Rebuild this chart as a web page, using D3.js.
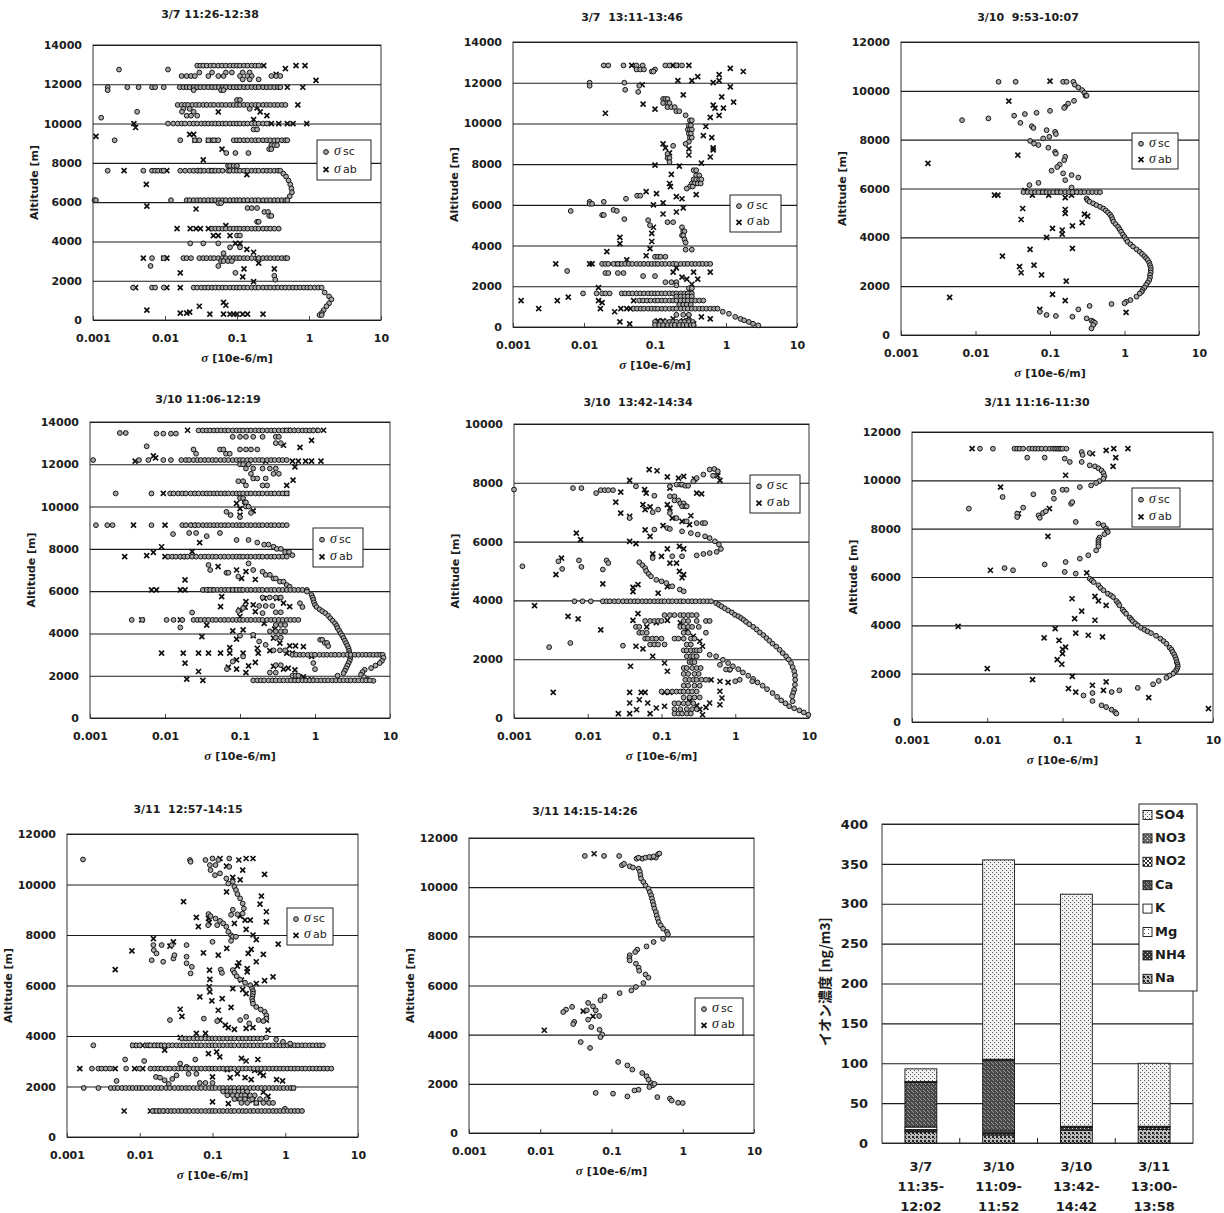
<!DOCTYPE html>
<html>
<head>
<meta charset="utf-8">
<script src="https://cdn.jsdelivr.net/npm/d3@7"></script>
<style>
body { margin: 0; background: #fff; }
svg { display: block; font-family: "DejaVu Sans", "Liberation Sans", sans-serif; }
</style>
</head>
<body>
<svg id="chart" width="1224" height="1213"></svg>
<script>
//
// Aircraft extinction profiles (sigma sc / sigma ab vs altitude) and ion concentration bars.
// Each profile series is a list of [altitude, [sigma values read at that altitude]].
//

// ---------- 3/7 11:26-12:38 ----------
var p1Sc = [
  [12750, [0.0023, 0.011]],
  [12950, [0.028, 0.031, 0.034, 0.038, 0.043, 0.048, 0.055, 0.062, 0.07, 0.08, 0.09, 0.1, 0.11, 0.125, 0.14, 0.16, 0.18, 0.2]],
  [12600, [0.03, 0.045, 0.07, 0.085, 0.12, 0.15]],
  [12420, [0.017, 0.02, 0.023, 0.026, 0.04, 0.055, 0.065, 0.11, 0.14, 0.16, 0.3, 0.35, 0.4]],
  [12250, [0.12, 0.15, 0.2]],
  [11850, [0.0016, 0.003, 0.0043, 0.0066, 0.0073, 0.0096, 0.016, 0.018, 0.02, 0.022, 0.025, 0.028, 0.031, 0.035, 0.04, 0.045, 0.05, 0.056, 0.063, 0.07, 0.08, 0.09, 0.1, 0.11, 0.125, 0.14, 0.16, 0.18, 0.2, 0.23, 0.26, 0.29, 0.33, 0.37, 0.4]],
  [11700, [0.0016, 0.025, 0.06, 0.065]],
  [11200, [0.1, 0.11]],
  [10950, [0.015, 0.017, 0.019, 0.021, 0.024, 0.027, 0.03, 0.034, 0.038, 0.043, 0.048, 0.055, 0.062, 0.07, 0.08, 0.09, 0.1, 0.11, 0.125, 0.14, 0.16, 0.18, 0.2, 0.23, 0.26, 0.29, 0.33, 0.37, 0.42, 0.47]],
  [10750, [0.018, 0.022, 0.15]],
  [10600, [0.0041, 0.0172, 0.025]],
  [10400, [0.02, 0.023, 0.028]],
  [10300, [0.0013]],
  [10000, [0.011, 0.013, 0.015, 0.017, 0.019, 0.022, 0.025, 0.028, 0.032, 0.036, 0.04, 0.045, 0.05, 0.056, 0.063, 0.07, 0.08, 0.09, 0.1, 0.11, 0.125, 0.14, 0.16, 0.18, 0.2, 0.23, 0.26]],
  [9700, [0.17, 0.19]],
  [9150, [0.002, 0.0163, 0.026, 0.03, 0.04, 0.048, 0.055, 0.09, 0.1, 0.11, 0.125, 0.14, 0.16, 0.18, 0.2, 0.23, 0.26, 0.29, 0.33, 0.37, 0.42, 0.47, 0.5]],
  [8900, [0.3, 0.33, 0.36]],
  [8700, [0.28, 0.3]],
  [8500, [0.071, 0.095, 0.144]],
  [7850, [0.075, 0.08, 0.09, 0.1]],
  [7600, [0.0016, 0.005, 0.0066, 0.0073, 0.008, 0.009, 0.0096, 0.0163, 0.019, 0.022, 0.025, 0.028, 0.031, 0.035, 0.04, 0.045, 0.05, 0.056, 0.063, 0.075, 0.08, 0.09, 0.1, 0.11, 0.125, 0.14, 0.16, 0.18, 0.2, 0.23, 0.26, 0.29, 0.33, 0.37, 0.4]],
  [7450, [0.44]], [7300, [0.48]], [7100, [0.52]], [6900, [0.55]], [6700, [0.57]], [6500, [0.58]], [6300, [0.54]],
  [6100, [0.00105, 0.0011, 0.0121, 0.02, 0.022, 0.025, 0.028, 0.031, 0.035, 0.04, 0.045, 0.05, 0.056, 0.063, 0.07, 0.08, 0.09, 0.1, 0.11, 0.125, 0.14, 0.16, 0.18, 0.2, 0.23, 0.26, 0.29, 0.33, 0.37, 0.42, 0.47, 0.5]],
  [5950, [0.055, 0.06]],
  [5700, [0.14, 0.16, 0.19]],
  [5500, [0.24, 0.27]],
  [5300, [0.28, 0.3]],
  [5000, [0.19, 0.2]],
  [4650, [0.045, 0.05, 0.056, 0.063, 0.07, 0.08, 0.09, 0.1, 0.11, 0.125, 0.14, 0.16, 0.18, 0.2, 0.23, 0.26, 0.29, 0.33, 0.38]],
  [4300, [0.1, 0.11]],
  [3900, [0.0224, 0.034, 0.055]],
  [3700, [0.08, 0.11]],
  [3400, [0.065]],
  [3150, [0.0066, 0.0096, 0.018, 0.02, 0.023, 0.03, 0.034, 0.038, 0.043, 0.048, 0.055, 0.062, 0.07, 0.08, 0.09, 0.1, 0.11, 0.125, 0.14, 0.16, 0.2, 0.23, 0.26, 0.29, 0.33, 0.37, 0.42, 0.47, 0.5]],
  [3000, [0.06, 0.065, 0.075, 0.085]],
  [2750, [0.0063, 0.055]],
  [2400, [0.095]],
  [2250, [0.33]], [2050, [0.34]],
  [1650, [0.0036, 0.0066, 0.0073, 0.0096, 0.025, 0.028, 0.032, 0.036, 0.04, 0.045, 0.05, 0.056, 0.063, 0.07, 0.08, 0.09, 0.1, 0.11, 0.125, 0.14, 0.16, 0.18, 0.2, 0.23, 0.26, 0.29, 0.33, 0.37, 0.42, 0.47, 0.53, 0.6, 0.67, 0.75, 0.85, 0.95, 1.05, 1.2, 1.35, 1.5]],
  [1400, [1.65]], [1200, [1.9]], [1050, [2.05]], [850, [1.9]], [700, [1.75]], [500, [1.6]], [350, [1.5]], [250, [1.4, 1.5]]
];
var p1Ab = [
  [12950, [0.235, 0.66, 0.88]], [12800, [0.47]], [12200, [1.25]], [12500, [0.35]], [11850, [0.5, 0.82]],
  [10950, [0.7]], [10600, [0.055, 0.21]], [10800, [0.19]], [10400, [0.26]],
  [10000, [0.0037, 0.3, 0.38, 0.5, 0.6, 0.93]], [10200, [0.17]], [9800, [0.0039]], [9450, [0.022, 0.025]],
  [9350, [0.0011]], [9150, [0.026, 0.04, 0.048]], [8700, [0.062]], [8150, [0.034]],
  [7600, [0.0027, 0.0106, 0.03, 0.045]], [7400, [0.137]], [6900, [0.0055]], [5800, [0.0056]], [5650, [0.027]],
  [4650, [0.0147, 0.0224, 0.027, 0.031, 0.04]], [4800, [0.07]], [4300, [0.047, 0.055, 0.08]],
  [3900, [0.095, 0.11]], [3600, [0.137]], [3450, [0.17]], [3150, [0.005, 0.0096, 0.0106, 0.19]],
  [2900, [0.2]], [2600, [0.33, 0.125]], [2400, [0.0163]], [2200, [0.12]], [1950, [0.17]],
  [1650, [0.0039, 0.0106, 0.0163]], [900, [0.065]], [750, [0.07]], [700, [0.03]], [500, [0.0056]],
  [350, [0.0163, 0.02]], [400, [0.022]], [300, [0.042, 0.065, 0.08, 0.09, 0.1, 0.12, 0.14, 0.23]]
];

// ---------- 3/7 13:11-13:46 ----------
var p2Sc = [
  [12850, [0.019, 0.022, 0.036, 0.055, 0.067, 0.14, 0.16, 0.2, 0.24]],
  [12650, [0.055, 0.062, 0.07, 0.1]], [12550, [0.09, 0.095]],
  [12000, [0.012, 0.037]], [11850, [0.012, 0.06]], [11650, [0.038]], [11550, [0.058]],
  [11200, [0.13, 0.14, 0.15]], [11000, [0.13, 0.15, 0.16]], [10800, [0.15, 0.17, 0.19]], [10600, [0.2, 0.22]],
  [10400, [0.27]], [10150, [0.31, 0.33]], [9900, [0.3, 0.32]], [9700, [0.29, 0.31, 0.33]], [9500, [0.3, 0.32]],
  [9300, [0.31, 0.33]], [9100, [0.3]], [9000, [0.27]], [8900, [0.18]],
  [8500, [0.15]], [8300, [0.15, 0.16]], [8100, [0.16]],
  [7700, [0.35, 0.38]], [7450, [0.38, 0.42]], [7250, [0.35, 0.38, 0.42, 0.45]], [7050, [0.33, 0.36, 0.4, 0.44]], [6900, [0.31, 0.34]],
  [6800, [0.28]], [6450, [0.056, 0.062]], [6300, [0.039]], [6150, [0.012, 0.019]], [6050, [0.012, 0.013]],
  [5750, [0.026]], [5700, [0.0065, 0.029]], [5500, [0.018, 0.019]], [5300, [0.037]],
  [5250, [0.08]], [5000, [0.085]], [5150, [0.15, 0.18]],
  [4900, [0.24]], [4700, [0.25, 0.26]], [4500, [0.24, 0.25]], [4300, [0.26]], [4150, [0.27]], [3800, [0.27, 0.33]],
  [3450, [0.1, 0.11, 0.12, 0.14]],
  [3100, [0.018, 0.02, 0.022, 0.026, 0.03, 0.034, 0.038, 0.043, 0.048, 0.055, 0.062, 0.07, 0.08, 0.09, 0.1, 0.11, 0.125, 0.14, 0.16, 0.18, 0.2, 0.23, 0.26, 0.29, 0.33, 0.37, 0.42, 0.47, 0.53, 0.6]],
  [2750, [0.0058]], [2650, [0.02, 0.022, 0.03, 0.036]], [2500, [0.068, 0.1]], [2200, [0.14, 0.17, 0.2]],
  [2050, [0.2]], [1900, [0.3, 0.33]],
  [1650, [0.0097, 0.015, 0.018, 0.02, 0.023, 0.034, 0.038, 0.043, 0.048, 0.055, 0.062, 0.07, 0.08, 0.09, 0.1, 0.11, 0.125, 0.14, 0.16, 0.18, 0.2, 0.23, 0.26, 0.29, 0.33]],
  [1500, [0.2, 0.23, 0.26, 0.29, 0.33]],
  [1300, [0.06, 0.068, 0.077, 0.087, 0.1, 0.11, 0.125, 0.14, 0.16, 0.18, 0.2, 0.23, 0.26, 0.29, 0.33, 0.37, 0.42, 0.48]],
  [1100, [0.22, 0.25, 0.28, 0.32]],
  [900, [0.05, 0.056, 0.063, 0.07, 0.08, 0.09, 0.1, 0.11, 0.125, 0.14, 0.16, 0.18, 0.2, 0.23, 0.26, 0.29, 0.33, 0.37, 0.42, 0.47, 0.53, 0.6, 0.68, 0.76]],
  [750, [0.9]], [650, [1.1]], [500, [1.35]], [400, [1.6]], [330, [1.8]], [250, [2.1]], [160, [2.4]], [80, [2.85]],
  [600, [0.2, 0.25, 0.3]],
  [250, [0.1, 0.12, 0.14, 0.16, 0.18, 0.2, 0.23, 0.26, 0.3, 0.34]],
  [100, [0.1, 0.115, 0.13, 0.15, 0.17, 0.19, 0.22, 0.25, 0.28, 0.32, 0.35]]
];
var p2Ab = [
  [12850, [0.047, 0.18, 0.2, 0.3]], [12700, [1.15]], [12550, [1.75]], [12400, [0.8]], [12300, [0.4]],
  [12100, [0.21, 0.33, 0.8]], [12000, [0.66]], [11900, [0.066]], [11800, [1.15]], [11400, [0.25]], [11300, [0.87]],
  [11050, [1.28]], [10950, [0.068]], [10900, [0.66]], [10750, [0.7, 0.92]], [10700, [0.1]], [10500, [0.02]],
  [10400, [0.8]], [10300, [0.6]], [9850, [0.52]], [9400, [0.48]], [9300, [0.63]], [9000, [0.13]],
  [8800, [0.14, 0.66]], [8750, [0.3]], [8700, [0.66]], [8550, [0.16]], [8450, [0.3]], [8350, [0.6]],
  [8050, [0.45]], [7950, [0.1]], [7900, [0.22]], [7500, [0.17]], [7050, [0.16]], [6900, [0.165]],
  [6650, [0.075]], [6550, [0.105]], [6500, [0.38]], [6400, [0.2]], [6300, [0.24]], [6100, [0.13]],
  [6000, [0.095]], [5850, [0.25]], [5650, [0.2]], [5550, [0.13]], [4900, [0.095]], [4600, [0.09]],
  [4400, [0.032]], [4200, [0.09]], [4100, [0.032]], [3850, [0.085]], [3700, [0.021]], [3500, [0.075]],
  [3300, [0.04]], [3100, [0.004, 0.012, 0.013, 0.03]], [2900, [0.2]], [2700, [0.18, 0.35, 0.6]],
  [2450, [0.24]], [2350, [0.28, 0.4]], [2100, [0.33]], [1930, [0.016]], [1470, [0.006]],
  [1300, [0.0013, 0.0042, 0.016, 0.05]], [1200, [0.018]], [900, [0.0023, 0.017, 0.033, 0.04, 0.045]],
  [750, [0.027]], [500, [0.3, 0.45]], [400, [0.18, 0.6]], [300, [0.11, 0.13, 0.25]], [250, [0.032]], [150, [0.044, 0.35]]
];

// ---------- 3/10 9:53-10:07 ----------
var p3Sc = [
  [10370, [0.0204, 0.0346, 0.15, 0.167, 0.206]],
  [10250, [0.215]], [10140, [0.24]], [10030, [0.27]], [9920, [0.29]], [9800, [0.3, 0.31]],
  [9590, [0.21]], [9480, [0.175]], [9350, [0.16]], [9300, [0.155]],
  [9180, [0.1]], [9100, [0.066]], [9050, [0.046]], [8980, [0.033]], [8870, [0.0149]], [8800, [0.0066]],
  [8690, [0.04]], [8550, [0.057]], [8480, [0.06]], [8390, [0.09]], [8320, [0.117]], [8230, [0.12]],
  [8120, [0.098]], [8050, [0.081]], [7950, [0.054]], [7840, [0.061]], [7780, [0.07]], [7670, [0.095]],
  [7500, [0.117]], [7430, [0.12]], [7300, [0.16]], [7160, [0.155]], [6980, [0.135]], [6880, [0.125]],
  [6730, [0.105]], [6620, [0.15]], [6550, [0.195]], [6450, [0.24]], [6340, [0.16]], [6230, [0.07]],
  [6140, [0.053]], [6040, [0.195]],
  [5850, [0.044, 0.05, 0.056, 0.063, 0.07, 0.08, 0.09, 0.1, 0.11, 0.125, 0.14, 0.16, 0.18, 0.2, 0.23, 0.26, 0.29, 0.33, 0.37, 0.42, 0.47]],
  [5590, [0.31]], [5520, [0.32]], [5460, [0.34]], [5390, [0.38]], [5320, [0.42]], [5250, [0.47]], [5180, [0.52]],
  [5100, [0.56]], [5020, [0.6]], [4930, [0.64]], [4840, [0.67]], [4740, [0.69]], [4640, [0.71]], [4540, [0.76]],
  [4430, [0.82]], [4330, [0.86]], [4230, [0.9]], [4120, [0.95]], [4020, [1.0]], [3920, [1.05]], [3820, [1.1]],
  [3720, [1.2]], [3620, [1.3]], [3510, [1.45]], [3410, [1.6]], [3320, [1.72]], [3230, [1.85]], [3150, [1.95]],
  [3070, [2.05]], [2960, [2.15]], [2860, [2.2]], [2760, [2.25]], [2660, [2.25]], [2560, [2.25]], [2460, [2.2]],
  [2350, [2.2]], [2250, [2.15]], [2150, [2.05]], [2050, [1.95]], [1940, [1.85]], [1840, [1.75]], [1770, [1.7]],
  [1700, [1.6]], [1570, [1.45]], [1430, [1.2]], [1360, [1.05]], [1300, [1.0]],
  [1270, [0.67]], [1190, [0.34]], [1050, [0.24]], [750, [0.2]], [780, [0.12]], [820, [0.09]], [950, [0.073]],
  [680, [0.31]], [590, [0.36]], [550, [0.38]], [500, [0.4]], [410, [0.38]], [270, [0.36]]
];
var p3Ab = [
  [10400, [0.1]], [9580, [0.028]], [7030, [0.0023]], [7370, [0.037]],
  [5730, [0.018, 0.02, 0.058, 0.096, 0.195]], [5910, [0.046]], [5630, [0.16]], [5850, [0.08, 0.125, 0.2, 0.25]],
  [5180, [0.043]], [4730, [0.041]], [5140, [0.16]], [4980, [0.16]], [4950, [0.29]], [4870, [0.32]], [4600, [0.27]],
  [4370, [0.108]], [4300, [0.146]], [4130, [0.146]], [4470, [0.2]], [4000, [0.09]], [3510, [0.054]],
  [3550, [0.2]], [3230, [0.023]], [2800, [0.039]], [2550, [0.041]], [2860, [0.061]], [2460, [0.077]],
  [2210, [0.165]], [1540, [0.0045]], [1660, [0.108]], [1410, [0.16]], [1050, [0.073]], [930, [1.05]]
];

// ---------- 3/10 11:06-12:19 ----------
var p4Sc = [
  [13480, [0.0025, 0.003]], [13450, [0.0077, 0.0095, 0.012, 0.014]],
  [13600, [0.028, 0.032, 0.036, 0.04, 0.045, 0.05, 0.056, 0.063, 0.07, 0.08, 0.09, 0.1, 0.11, 0.125, 0.14, 0.16, 0.18, 0.2, 0.23, 0.26, 0.29, 0.33, 0.37, 0.42, 0.47, 0.53, 0.6, 0.68, 0.76, 0.85, 0.95, 1.1]],
  [13300, [0.08, 0.1, 0.12, 0.15, 0.2, 0.3, 0.33]], [13000, [0.3, 0.35]], [12850, [0.0057]],
  [12700, [0.024, 0.054, 0.06, 0.1, 0.12, 0.14, 0.17]], [12500, [0.026, 0.065, 0.073]],
  [12200, [0.0011, 0.0045, 0.006, 0.0095, 0.012, 0.0165, 0.019, 0.021, 0.024, 0.027, 0.03, 0.034, 0.038, 0.043, 0.048, 0.055, 0.062, 0.07, 0.08, 0.09, 0.1, 0.11, 0.125, 0.14, 0.16, 0.18, 0.2, 0.23, 0.26, 0.29, 0.33, 0.37, 0.42]],
  [12000, [0.1, 0.11, 0.13]], [11800, [0.12, 0.15, 0.2, 0.25, 0.3]], [11550, [0.14, 0.28, 0.33]],
  [11330, [0.15, 0.17, 0.22]], [11200, [0.095, 0.11]], [11000, [0.12, 0.2, 0.23]],
  [10620, [0.0022, 0.0066, 0.0117, 0.013, 0.015, 0.017, 0.019, 0.022, 0.025, 0.028, 0.032, 0.036, 0.04, 0.045, 0.05, 0.056, 0.063, 0.07, 0.08, 0.09, 0.1, 0.11, 0.125, 0.14, 0.16, 0.18, 0.2, 0.23, 0.26, 0.29, 0.33, 0.37, 0.42]],
  [10400, [0.1, 0.11]], [10200, [0.115, 0.12]], [10000, [0.12, 0.13]], [9750, [0.066]], [9600, [0.075]],
  [9500, [0.1]], [9700, [0.14]],
  [9120, [0.0012, 0.0017, 0.002, 0.0066, 0.017, 0.019, 0.022, 0.025, 0.028, 0.032, 0.036, 0.04, 0.045, 0.05, 0.056, 0.063, 0.07, 0.08, 0.09, 0.1, 0.11, 0.125, 0.14, 0.16, 0.18, 0.2, 0.23, 0.26, 0.29, 0.33, 0.37, 0.42]],
  [8700, [0.0128]], [8750, [0.021, 0.026, 0.054]], [8600, [0.036]],
  [8420, [0.09, 0.13]], [8300, [0.17]], [8200, [0.21, 0.24]], [8100, [0.28]], [8000, [0.31, 0.35]], [7850, [0.4, 0.45]], [7700, [0.5]],
  [7630, [0.011, 0.0125, 0.014, 0.016, 0.018, 0.02, 0.023, 0.026, 0.03, 0.034, 0.038, 0.043, 0.048, 0.055, 0.062, 0.07, 0.08, 0.09, 0.1, 0.11, 0.125, 0.14, 0.16, 0.18, 0.2, 0.23, 0.26, 0.29, 0.33, 0.37, 0.42]],
  [7240, [0.038]], [7000, [0.04, 0.15]], [7310, [0.13]], [6870, [0.066, 0.07]], [6690, [0.095]], [6920, [0.2]],
  [6770, [0.22, 0.25]], [6600, [0.28, 0.3]], [6450, [0.34, 0.38]], [6290, [0.42]], [6210, [0.46]],
  [6060, [0.032, 0.036, 0.04, 0.045, 0.05, 0.056, 0.063, 0.07, 0.08, 0.09, 0.1, 0.11, 0.125, 0.14, 0.16, 0.18, 0.2, 0.23, 0.26, 0.29, 0.33, 0.37, 0.42, 0.47, 0.53, 0.6, 0.68, 0.78]],
  [5980, [0.78]], [5820, [0.9]], [5700, [0.93]], [5590, [0.95]], [5470, [0.97]], [5350, [1.0]], [5250, [1.05]],
  [5140, [1.15]], [5050, [1.25]], [4960, [1.37]], [4840, [1.5]], [4720, [1.6]], [4600, [1.72]], [4480, [1.85]],
  [4360, [1.95]], [4250, [2.0]], [4130, [2.1]], [4010, [2.2]], [3900, [2.3]], [3780, [2.4]], [3660, [2.5]],
  [3540, [2.6]], [3420, [2.7]], [3300, [2.8]], [3180, [2.85]], [3070, [2.9]], [2950, [2.9]], [2830, [2.95]],
  [2710, [2.9]], [2600, [2.8]], [2480, [2.7]], [2360, [2.6]], [2240, [2.5]], [2120, [2.4]], [2000, [2.0]],
  [5430, [0.63]], [5250, [0.68]],
  [2990, [0.5, 0.56, 0.63, 0.7, 0.8, 0.9, 1.0, 1.15, 1.3, 1.45, 1.65, 1.85, 2.1, 2.4, 2.7, 3.0, 3.4, 3.8, 4.3, 4.8, 5.4, 6.0, 6.7, 7.4, 8.0]],
  [2850, [8.2]], [2700, [7.8]], [2600, [7.3]], [2480, [6.4]], [2360, [5.6]], [2280, [4.6]], [2170, [4.3]],
  [2050, [4.1]], [1930, [4.5]], [1810, [5.0]], [1760, [6.0]],
  [1780, [0.15, 0.17, 0.19, 0.21, 0.24, 0.27, 0.3, 0.34, 0.38, 0.43, 0.48, 0.54, 0.6, 0.68, 0.76, 0.85, 0.95, 1.07, 1.2, 1.35, 1.5, 1.7, 1.9, 2.15, 2.4, 2.7, 3.0, 3.4, 3.8, 4.3, 4.8, 5.4]],
  [3700, [1.17, 1.25]], [3550, [1.35, 1.45]], [3400, [1.5]],
  [4640, [0.0036, 0.005, 0.0105, 0.013, 0.017, 0.024, 0.027, 0.03, 0.034, 0.038, 0.043, 0.048, 0.055, 0.062, 0.07, 0.08, 0.09, 0.1, 0.11, 0.125, 0.14, 0.16, 0.18, 0.2, 0.23, 0.26, 0.29, 0.33, 0.37, 0.42, 0.47, 0.53, 0.6]],
  [4990, [0.023]], [4280, [0.016]], [5060, [0.095]], [5200, [0.11]], [4960, [0.2]], [3930, [0.15]],
  [3620, [0.18]], [3460, [0.22]], [3890, [0.1]], [2670, [0.08]], [2310, [0.067, 1.0]], [2910, [0.11]], [2600, [0.95]],
  [5700, [0.2, 0.25, 0.3, 0.35]], [5300, [0.18, 0.22, 0.27]], [5000, [0.3, 0.35]], [4400, [0.3, 0.35, 0.4]],
  [4100, [0.25, 0.3, 0.35, 0.4]], [3800, [0.3, 0.35]], [3200, [0.28, 0.34, 0.4]], [2500, [0.3, 0.35]],
  [2150, [0.25, 0.3]], [2000, [0.5, 0.55, 0.6]]
];
var p4Ab = [
  [13610, [0.02, 0.42, 0.5, 1.0, 1.3]], [13130, [0.9]], [12900, [0.38]], [12800, [0.63]], [12400, [0.007]],
  [12300, [0.0075]], [12150, [0.004, 0.22, 0.5, 0.6, 0.75, 0.9, 1.2]], [11250, [0.51]], [11000, [0.42]],
  [11880, [0.54]], [10620, [0.0095, 0.42]], [10150, [0.09]], [9900, [0.1]], [9800, [0.15]], [9600, [0.1]],
  [9120, [0.0038, 0.01, 0.024]], [8290, [0.029]], [8100, [0.009]], [7830, [0.007]], [7680, [0.0057]],
  [7630, [0.0029, 0.01, 0.017]], [7870, [0.023]], [7160, [0.051]], [7000, [0.09]], [6920, [0.12]],
  [6600, [0.105]], [6530, [0.0185]], [6550, [0.16]],
  [6060, [0.0066, 0.0077, 0.016, 0.0185, 0.035, 0.04, 0.06, 0.08, 0.1]],
  [5740, [0.057]], [5500, [0.12]], [5350, [0.15]], [5660, [0.21, 0.31]], [5430, [0.38]], [5270, [0.055, 0.46]],
  [5240, [0.117]], [5110, [0.1]], [5030, [0.16]], [4800, [0.1]], [4480, [0.21]], [4200, [0.29]], [4390, [0.036]],
  [4170, [0.11]], [4120, [0.08]], [3890, [0.15]], [3730, [0.09]], [3850, [0.031]], [3780, [0.28]], [3540, [0.34]],
  [3410, [0.46, 0.55]], [3380, [0.7]], [3330, [0.073]], [3300, [0.17]], [3190, [0.25]],
  [3070, [0.009, 0.0175, 0.028, 0.038, 0.055, 0.073, 0.11, 0.175, 0.42, 0.5]], [2910, [0.9]], [4640, [0.0049, 0.016]],
  [2600, [0.0185]], [2200, [0.028]], [2410, [0.07]], [2310, [0.09, 0.38]], [2470, [0.13]], [2630, [0.16]],
  [2750, [0.09]], [2440, [0.28]], [2360, [0.44]], [2280, [0.54]], [1840, [0.0195]], [1780, [0.032]],
  [2150, [0.12]], [1800, [0.55, 0.65, 0.8, 0.9]], [1950, [0.6, 0.7]]
];

// ---------- 3/10 13:42-14:34 ----------
var p5Sc = [
  [7770, [0.001]], [7820, [0.0063, 0.0082]], [7650, [0.013]], [7750, [0.015, 0.017, 0.019, 0.022]],
  [7880, [0.045, 0.13]], [7560, [0.08]], [7000, [0.076]], [6800, [0.037]],
  [7940, [0.16, 0.18, 0.19]], [7900, [0.21, 0.23]], [8050, [0.27]], [8160, [0.3]], [8280, [0.37]], [8450, [0.45]],
  [8470, [0.52]], [8390, [0.58]], [8240, [0.5]],
  [7540, [0.13, 0.15]], [7400, [0.15, 0.17]], [7300, [0.18, 0.2]], [7200, [0.19, 0.21, 0.22]],
  [7090, [0.09]], [6970, [0.13]], [6800, [0.16]], [6690, [0.22]], [6630, [0.3, 0.36, 0.39]],
  [6410, [0.08]], [6460, [0.12]], [6430, [0.13]], [6350, [0.19]],
  [6290, [0.25]], [6240, [0.31]], [6180, [0.39]], [6120, [0.45]], [6010, [0.53]], [5900, [0.6]], [5750, [0.64]],
  [5650, [0.56]], [5610, [0.45]], [5580, [0.37]], [5530, [0.3]], [5500, [0.14, 0.19]], [5440, [0.076]],
  [5160, [0.0013]], [5330, [0.004]], [5070, [0.0045]], [5360, [0.0076, 0.018]], [5140, [0.0082]], [5050, [0.016]], [5270, [0.019]],
  [2410, [0.003]], [2550, [0.0058]], [2460, [0.03]],
  [5300, [0.05]], [5200, [0.055]], [5100, [0.06]], [5000, [0.062]], [4900, [0.067]], [4820, [0.072]], [4700, [0.085]],
  [4650, [0.1]], [4590, [0.116]], [4480, [0.14]], [4370, [0.177]], [4310, [0.2]],
  [3970, [0.0066, 0.0085, 0.011, 0.016, 0.018, 0.02, 0.023, 0.026, 0.03, 0.034, 0.038, 0.043, 0.048, 0.055, 0.062, 0.07, 0.08, 0.09, 0.1, 0.11, 0.125, 0.14, 0.16, 0.18, 0.2, 0.23, 0.26, 0.29, 0.33, 0.37, 0.42, 0.47]],
  [3910, [0.55]], [3850, [0.6]], [3800, [0.65]], [3730, [0.72]], [3660, [0.8]], [3590, [0.9]], [3510, [0.99]],
  [3460, [1.1]], [3400, [1.2]], [3340, [1.3]], [3270, [1.4]], [3190, [1.55]], [3100, [1.75]], [3010, [1.95]],
  [2910, [2.15]], [2820, [2.4]], [2720, [2.65]], [2630, [2.9]], [2530, [3.2]], [2430, [3.6]], [2320, [4.0]],
  [2210, [4.4]], [2100, [4.9]], [1990, [5.3]], [1870, [5.7]], [1730, [6.0]], [1590, [6.3]], [1450, [6.45]],
  [1300, [6.5]], [1130, [6.45]], [960, [6.3]], [850, [6.1]], [740, [5.9]], [570, [6.0]],
  [2150, [0.45]], [2100, [0.55]], [1980, [0.68]], [1870, [0.8]], [1760, [0.93]], [1660, [1.1]], [1550, [1.27]],
  [1440, [1.5]], [1330, [1.75]], [1210, [2.0]], [1100, [2.35]], [980, [2.7]], [850, [3.2]], [720, [3.7]],
  [600, [4.2]], [500, [4.8]], [400, [5.4]], [330, [6.3]], [260, [7.4]], [190, [8.5]], [110, [9.8]],
  [1810, [0.62]], [1640, [0.84]], [1300, [1.15]], [1250, [1.0, 1.7]], [1650, [0.75, 0.85]],
  [3500, [0.11, 0.13, 0.15, 0.18, 0.2, 0.23, 0.26, 0.3]],
  [3300, [0.06, 0.07, 0.08, 0.09, 0.1, 0.2, 0.23, 0.3, 0.4, 0.45]],
  [3100, [0.045, 0.05, 0.18, 0.2, 0.23, 0.26, 0.32]],
  [2900, [0.05, 0.055, 0.063, 0.2, 0.23, 0.4]],
  [2700, [0.06, 0.065, 0.075, 0.085, 0.1, 0.15, 0.17, 0.2, 0.25, 0.28]],
  [2500, [0.07, 0.08, 0.09, 0.11, 0.22, 0.25]],
  [2300, [0.2, 0.22, 0.25, 0.28, 0.3, 0.33]],
  [2100, [0.22, 0.25, 0.27, 0.3]], [1900, [0.24, 0.26, 0.28]],
  [1700, [0.2, 0.22, 0.26, 0.3, 0.34]], [1500, [0.2, 0.23, 0.28, 0.32]],
  [1300, [0.21, 0.24, 0.27, 0.3, 0.35, 0.4]], [1100, [0.2, 0.23, 0.28, 0.33]],
  [900, [0.1, 0.12, 0.14, 0.16, 0.18, 0.2, 0.23, 0.26, 0.3]], [700, [0.2, 0.24, 0.28, 0.33]],
  [500, [0.15, 0.17, 0.2, 0.23, 0.27]], [300, [0.15, 0.18, 0.22, 0.26, 0.3]], [150, [0.15, 0.17, 0.19, 0.22, 0.25]]
];
var p5Ab = [
  [8450, [0.068]], [8410, [0.087]], [8080, [0.037, 0.62]], [8200, [0.12]], [8160, [0.17]], [8220, [0.2]],
  [8130, [0.28]], [8240, [0.58]], [7680, [0.028]], [7770, [0.059]], [7650, [0.062, 0.3]], [7820, [0.13]],
  [7620, [0.35]], [7340, [0.024]], [6970, [0.028]], [6860, [0.037]], [7260, [0.056, 0.12]], [7090, [0.06]],
  [7180, [0.07]], [7140, [0.13]], [6800, [0.14]], [6690, [0.19]], [6880, [0.25]], [6580, [0.24]], [6540, [0.105]],
  [6180, [0.07]], [6400, [0.06]], [6290, [0.007]], [6070, [0.008]], [6010, [0.037]], [5930, [0.045]],
  [5750, [0.12, 0.2]], [5840, [0.175]], [5580, [0.076]], [5500, [0.1]], [5270, [0.13, 0.16]], [4990, [0.175]],
  [4880, [0.2, 0.0037]], [4770, [0.19]], [5440, [0.0044]], [4560, [0.016]], [4440, [0.041]], [4300, [0.041]],
  [4540, [0.048]], [4250, [0.09]], [4470, [0.12]], [3820, [0.0019]], [3460, [0.0054]], [3370, [0.0074]],
  [3000, [0.015, 0.22]], [3320, [0.041, 0.12]], [3550, [0.048]], [3100, [0.063]], [3240, [0.085, 0.18]],
  [2780, [0.27]], [2610, [0.33]], [2440, [0.36, 0.045]], [2350, [0.056]], [2100, [0.076]], [1870, [0.11]],
  [1590, [0.12]], [1760, [0.038]], [870, [0.0034, 0.037, 0.053, 0.06, 0.11, 0.13]], [510, [0.037, 0.065, 0.45]],
  [620, [0.05]], [280, [0.046]], [150, [0.026, 0.037, 0.07]], [340, [0.085]], [400, [0.11]], [560, [0.24]],
  [420, [0.3]], [290, [0.33]], [110, [0.36]], [360, [0.4]], [450, [0.62]], [1250, [0.62]], [910, [0.62]],
  [680, [0.66]], [1210, [0.8]], [1300, [0.47]]
];

// ---------- 3/11 11:16-11:30 ----------
var p6Sc = [
  [11310, [0.008, 0.0119, 0.023, 0.025, 0.027, 0.03, 0.036, 0.04, 0.044, 0.048, 0.053, 0.06, 0.068, 0.075, 0.08, 0.085, 0.09, 0.095, 0.1, 0.113]],
  [10940, [0.034, 0.058]], [10900, [0.107]], [10760, [0.125, 0.18]], [11170, [0.18]], [11050, [0.185]], [11130, [0.23]],
  [10620, [0.23]], [10580, [0.27]], [10500, [0.3]], [10410, [0.33]], [10300, [0.35]], [10170, [0.36]],
  [10070, [0.35]], [9970, [0.31]], [9890, [0.28]], [9790, [0.24]], [9720, [0.17]], [9610, [0.1, 0.113]],
  [9520, [0.076]], [9420, [0.041]], [9240, [0.077]], [9310, [0.016]], [8830, [0.0057]], [8870, [0.03]],
  [9030, [0.13]], [9100, [0.135]], [8620, [0.025]], [8480, [0.025]], [8550, [0.048]], [8650, [0.055]],
  [8450, [0.05]], [8720, [0.06]], [8280, [0.15]], [8210, [0.3]], [8140, [0.35]],
  [8000, [0.38]], [7920, [0.39]], [7860, [0.4]], [7770, [0.36]], [7630, [0.31]], [7540, [0.3]], [7450, [0.3]],
  [7360, [0.3]], [7270, [0.3]], [7100, [0.28]], [6900, [0.22]], [6760, [0.17]], [6620, [0.11]], [6520, [0.058]],
  [6280, [0.022]], [6370, [0.017]], [6210, [0.107]], [6140, [0.15]],
  [5930, [0.23]], [5860, [0.245]], [5790, [0.26]], [5660, [0.3]], [5550, [0.32]], [5450, [0.35]], [5310, [0.4]],
  [5240, [0.44]], [5170, [0.47]], [5010, [0.52]], [4920, [0.55]], [4830, [0.57]], [4650, [0.63]], [4570, [0.66]],
  [4480, [0.7]], [4320, [0.78]], [4250, [0.82]], [4170, [0.86]], [4080, [0.93]], [4000, [1.0]], [3900, [1.1]],
  [3820, [1.23]], [3750, [1.35]], [3680, [1.5]], [3570, [1.75]], [3450, [2.0]], [3350, [2.2]], [3240, [2.4]],
  [3080, [2.65]], [3000, [2.8]], [2900, [2.9]], [2800, [3.05]], [2690, [3.15]], [2590, [3.25]], [2480, [3.3]],
  [2390, [3.38]], [2300, [3.4]], [2220, [3.35]], [2140, [3.25]], [2070, [3.1]], [2000, [2.95]], [1920, [2.65]],
  [1830, [2.4]], [1700, [1.9]], [1560, [1.6]], [1410, [1.0]], [1310, [0.57]], [1240, [0.45]],
  [1200, [0.25]], [870, [0.25]], [1100, [0.19]], [690, [0.33]], [620, [0.38]], [510, [0.45]], [410, [0.5]], [350, [0.52]]
];
var p6Ab = [
  [11310, [0.0063, 0.48, 0.74]], [11240, [0.38]], [11100, [0.25]], [10940, [0.51]], [10580, [0.47]],
  [10210, [0.11]], [9720, [0.015]], [8620, [0.026]], [8830, [0.067]], [7680, [0.064]], [6280, [0.011]],
  [6170, [0.21]], [5100, [0.134]], [5200, [0.27]], [5010, [0.3]], [4830, [0.38]], [4590, [0.18]],
  [4280, [0.145]], [4210, [0.27]], [3960, [0.0041]], [3860, [0.08]], [3480, [0.057]], [3380, [0.09]],
  [3100, [0.11]], [3010, [0.1]], [2830, [0.1]], [2580, [0.085]], [2390, [0.098]], [3680, [0.15]],
  [3590, [0.22]], [3520, [0.34]], [2210, [0.01]], [1750, [0.04]], [1890, [0.135]], [1520, [0.25]],
  [1660, [0.38]], [1380, [0.12]], [1240, [0.15]], [1310, [0.35]], [1010, [1.4]], [550, [8.7]]
];

// ---------- 3/11 12:57-14:15 ----------
var p7Sc = [
  [10990, [0.00166]], [10970, [0.049, 0.08, 0.12]], [10900, [0.05]], [11030, [0.1, 0.17]],
  [10770, [0.092, 0.11]], [10570, [0.094]], [10370, [0.108]], [10440, [0.127]], [10240, [0.155]], [10700, [0.17]],
  [10110, [0.19]], [10040, [0.165]], [9910, [0.2]], [9780, [0.21]], [9620, [0.22]], [9450, [0.24]],
  [9250, [0.26]], [9050, [0.27]], [8850, [0.26]], [8820, [0.22]], [9000, [0.19]], [8800, [0.18]],
  [8830, [0.088]], [8750, [0.094]], [8650, [0.11]], [8560, [0.127]], [8460, [0.14]], [8330, [0.155]],
  [8130, [0.165]], [7990, [0.18]], [7930, [0.19, 0.21]], [8390, [0.087, 0.116]], [7770, [0.18]],
  [7600, [0.0154, 0.02, 0.0275, 0.044]], [7400, [0.0156]], [7270, [0.017]], [6940, [0.021]], [7070, [0.029]],
  [7200, [0.03]], [7140, [0.044]], [6880, [0.044]], [6740, [0.052]], [6480, [0.05]], [7000, [0.0146]], [7730, [0.1]],
  [6630, [0.13]], [6500, [0.135]],
  [6610, [0.19]], [6500, [0.2]], [6370, [0.215]], [6240, [0.24]], [6110, [0.28]], [6010, [0.33]], [5880, [0.35]],
  [5780, [0.36]], [5680, [0.36]], [5580, [0.355]], [5480, [0.35]], [5380, [0.355]], [5280, [0.36]], [5150, [0.4]],
  [5050, [0.46]], [4960, [0.52]], [4820, [0.55]], [4690, [0.55]], [4590, [0.5]], [4630, [0.43]],
  [4630, [0.026, 0.24]], [4690, [0.076]], [4590, [0.116]], [4760, [0.29]], [4500, [0.32]],
  [3630, [0.0023, 0.008, 0.009, 0.01, 0.012, 0.013, 0.014, 0.016, 0.018, 0.02, 0.022, 0.025, 0.028, 0.032, 0.036, 0.04, 0.045, 0.05, 0.056, 0.063, 0.07, 0.08, 0.09, 0.1, 0.11, 0.125, 0.14, 0.16, 0.18, 0.2, 0.23, 0.26, 0.29, 0.33, 0.37, 0.42, 0.47, 0.53, 0.6, 0.68, 0.76, 0.85, 0.95, 1.07, 1.2, 1.35, 1.5, 1.7, 1.9, 2.15, 2.4, 2.7, 3.0, 3.3]],
  [3940, [0.55]], [3860, [0.75]], [3770, [0.93]], [3700, [1.17]],
  [3900, [0.038, 0.043, 0.048, 0.055, 0.062, 0.07, 0.08, 0.09, 0.1, 0.11, 0.125, 0.14, 0.16, 0.18, 0.2, 0.23, 0.26, 0.29, 0.33, 0.37, 0.42, 0.47]],
  [3070, [0.0063, 0.058]], [3010, [0.0115]], [2910, [0.036]], [2780, [0.044]], [2440, [0.032]], [2500, [0.047, 0.06]],
  [2710, [0.0022, 0.0027, 0.003, 0.0034, 0.0039, 0.0065, 0.01, 0.014, 0.016, 0.018, 0.02, 0.023, 0.026, 0.03, 0.034, 0.038, 0.043, 0.048, 0.055, 0.062, 0.07, 0.08, 0.09, 0.1, 0.11, 0.125, 0.14, 0.16, 0.18, 0.2, 0.23, 0.26, 0.29, 0.33, 0.37, 0.42, 0.47, 0.53, 0.6, 0.68, 0.76, 0.85, 0.95, 1.07, 1.2, 1.35, 1.5, 1.7, 1.9, 2.15, 2.4, 2.7, 3.0, 3.4, 3.8, 4.3]],
  [2380, [0.0167]], [2350, [0.019]], [2250, [0.022]], [2300, [0.028]], [2100, [0.025]], [2220, [0.0048]],
  [1940, [0.0017, 0.0027, 0.004, 0.0045, 0.005, 0.0057, 0.0064, 0.0072, 0.008, 0.009, 0.01, 0.011, 0.0125, 0.014, 0.016, 0.018, 0.02, 0.023, 0.026, 0.03, 0.034, 0.038, 0.043, 0.048, 0.055, 0.062, 0.07, 0.08, 0.09, 0.1, 0.11, 0.125, 0.14, 0.16, 0.18, 0.2, 0.23, 0.26, 0.29, 0.33, 0.37, 0.42, 0.47, 0.53, 0.6, 0.68, 0.76, 0.85, 0.95, 1.07, 1.2, 1.3]],
  [2140, [0.067, 0.08, 0.1]],
  [1800, [0.14, 0.16, 0.18, 0.2, 0.23, 0.26, 0.3]], [1650, [0.16, 0.19, 0.22, 0.25, 0.28, 0.33, 0.38]],
  [1500, [0.2, 0.24, 0.28, 0.35, 0.45, 0.55]], [1350, [0.25, 0.3, 0.4, 0.5, 0.6, 0.68]], [1120, [0.99]],
  [1030, [0.015, 0.017, 0.019, 0.021, 0.024, 0.027, 0.03, 0.034, 0.038, 0.043, 0.048, 0.055, 0.062, 0.07, 0.08, 0.09, 0.1, 0.11, 0.125, 0.14, 0.16, 0.18, 0.2, 0.23, 0.26, 0.29, 0.33, 0.37, 0.42, 0.47, 0.53, 0.6, 0.68, 0.76, 0.85, 0.95, 1.07, 1.2, 1.35, 1.5, 1.7]]
];
var p7Ab = [
  [11030, [0.127, 0.29, 0.36]], [10970, [0.23]], [10730, [0.156]], [10570, [0.26]], [10180, [0.24]],
  [10280, [0.19]], [9710, [0.156]], [10400, [0.52]], [9540, [0.47]], [9220, [0.45]], [8920, [0.55]],
  [8520, [0.55]], [8750, [0.24]], [8590, [0.28, 0.33]], [8220, [0.29]], [8460, [0.2]], [8000, [0.36]],
  [7820, [0.4]], [7640, [0.8]], [7230, [0.5]], [6940, [0.4]], [7430, [0.34]], [7270, [0.31]], [6900, [0.23]],
  [6770, [0.22]], [6670, [0.3]], [6540, [0.3]], [6340, [0.68]], [6190, [0.52]], [6080, [0.4]], [6210, [0.25]],
  [5840, [0.26]], [5680, [0.29]], [5880, [0.19]], [7470, [0.157]], [7200, [0.12]], [7290, [0.075]],
  [8660, [0.088]], [8500, [0.09]], [8700, [0.06]], [8330, [0.064]], [9320, [0.04]], [7860, [0.0154]],
  [7730, [0.029]], [7560, [0.026]], [7370, [0.0078]], [6630, [0.0046]], [6240, [0.092]], [6610, [0.091]],
  [5750, [0.092]], [5950, [0.09]], [5550, [0.067]], [5390, [0.098]], [5480, [0.136]], [5130, [0.18]],
  [5060, [0.036]], [4780, [0.038]], [5020, [0.12]], [4630, [0.126, 0.55]], [4430, [0.15]], [4330, [0.165, 0.36]],
  [4260, [0.2]], [4300, [0.29]], [4230, [0.58]], [4100, [0.06, 0.08]],
  [3630, [0.0082, 0.011, 0.0145, 0.018]], [3440, [0.022]], [3940, [0.036]], [2710, [0.0015, 0.0046, 0.0085, 0.011]],
  [3300, [0.088]], [3370, [0.114]], [3170, [0.126]], [3110, [0.25]], [3010, [0.29]], [3070, [0.42]],
  [2380, [0.1]], [2350, [0.175, 0.28]], [2510, [0.22]], [2270, [0.34, 0.76]], [2540, [0.45]], [2440, [0.5]],
  [2220, [0.92]], [1940, [1.27]], [2670, [0.16]], [2640, [0.38]], [1390, [0.1]], [1320, [0.165]],
  [1520, [0.21]], [1610, [0.29, 0.58]], [1780, [0.5]], [1350, [0.4]], [1450, [0.36]],
  [1030, [0.0061, 0.014, 0.017, 0.023]]
];

// ---------- 3/11 14:15-14:26 ----------
var p8Sc = [
  [11270, [0.0423, 0.0787, 0.128]], [11160, [0.225, 0.27]], [11200, [0.24, 0.3, 0.36, 0.42]], [11230, [0.34]],
  [11250, [0.39]], [11340, [0.45]], [11370, [0.47]],
  [10890, [0.14]], [10950, [0.15]], [10850, [0.18]], [10800, [0.2]], [10750, [0.24]],
  [10630, [0.25]], [10490, [0.255]], [10350, [0.26]], [10210, [0.28]], [10070, [0.3]], [9940, [0.33]],
  [9800, [0.345]], [9670, [0.36]], [9540, [0.37]], [9400, [0.38]], [9270, [0.39]], [9130, [0.4]], [8990, [0.42]],
  [8850, [0.43]], [8720, [0.445]], [8580, [0.46]], [8450, [0.49]], [8310, [0.53]], [8180, [0.6]], [8080, [0.62]],
  [7900, [0.53]], [7770, [0.39]], [7590, [0.31]], [7460, [0.23]], [7360, [0.215]], [7230, [0.18]], [7120, [0.178]],
  [7020, [0.18]], [6890, [0.22]], [6730, [0.24]], [6600, [0.245]], [6450, [0.3]], [6320, [0.33]], [6100, [0.28]],
  [5940, [0.22]], [5800, [0.19]], [5690, [0.13]], [5560, [0.08]], [5400, [0.07]], [5290, [0.047]], [5130, [0.028]],
  [5020, [0.023]], [4920, [0.021]],
  [5150, [0.055]], [4990, [0.045, 0.06]], [4760, [0.067]], [4610, [0.047]], [4520, [0.03]], [4430, [0.029]],
  [4310, [0.052]], [4200, [0.068]], [4010, [0.074]], [3900, [0.07]], [3700, [0.037]], [3460, [0.05]],
  [2890, [0.124]], [2750, [0.167]], [2580, [0.196]], [2440, [0.27]], [2310, [0.31]], [2170, [0.33]],
  [2030, [0.36]], [1940, [0.38]], [2000, [0.4]], [1870, [0.34]],
  [1760, [0.24]], [1730, [0.21]], [1490, [0.167]], [1600, [0.105]], [1630, [0.06]], [1460, [0.44]],
  [1400, [0.66]], [1320, [0.7]], [1230, [0.86]], [1220, [1.0]]
];
var p8Ab = [
  [11360, [0.057]], [4960, [0.04]], [4750, [0.055]], [4180, [0.0114]]
];

// ---------- ion concentration [ng/m3] ----------
var barCategories = ["3/7 11:35-12:02", "3/10 11:09-11:52", "3/10 13:42-14:42", "3/11 13:00-13:58"];
var barLabelLines = [["3/7", "11:35-", "12:02"], ["3/10", "11:09-", "11:52"], ["3/10", "13:42-", "14:42"], ["3/11", "13:00-", "13:58"]];
var ionKeys = ["Na", "NH4", "Mg", "K", "Ca", "NO2", "NO3", "SO4"];
var naValues = [14, 10, 16, 17];
var nh4Values = [2, 2, 4, 3];
var mgValues = [1, 1, 0, 0];
var kValues = [3, 2, 0, 0];
var caValues = [56, 89, 1, 1];
var no2Values = [0, 0, 0, 0];
var no3Values = [1, 1, 0, 0];
var so4Values = [16, 250, 291, 79];
var barTicks = [0, 50, 100, 150, 200, 250, 300, 350, 400];
var sigmaTicks = [0.001, 0.01, 0.1, 1, 10];

// Panel placement on the page.
var panels = [
  { title: "3/7 11:26-12:38", sc: p1Sc, ab: p1Ab, yMax: 14000, x0: 93, x1: 381, top: 45, bot: 320, tx: 210, ty: 15, lg: [317, 140, 54, 40] },
  { title: "3/7  13:11-13:46", sc: p2Sc, ab: p2Ab, yMax: 14000, x0: 513, x1: 797, top: 42, bot: 327, tx: 632, ty: 18, lg: [730, 195, 51, 37] },
  { title: "3/10  9:53-10:07", sc: p3Sc, ab: p3Ab, yMax: 12000, x0: 901, x1: 1199, top: 42, bot: 335, tx: 1028, ty: 18, lg: [1132, 133, 46, 36] },
  { title: "3/10 11:06-12:19", sc: p4Sc, ab: p4Ab, yMax: 14000, x0: 90, x1: 390, top: 422, bot: 718, tx: 208, ty: 400, lg: [313, 528, 50, 39] },
  { title: "3/10  13:42-14:34", sc: p5Sc, ab: p5Ab, yMax: 10000, x0: 514, x1: 809, top: 424, bot: 718, tx: 638, ty: 403, lg: [750, 475, 50, 38] },
  { title: "3/11 11:16-11:30", sc: p6Sc, ab: p6Ab, yMax: 12000, x0: 912, x1: 1213, top: 432, bot: 722, tx: 1037, ty: 403, lg: [1132, 488, 48, 39] },
  { title: "3/11  12:57-14:15", sc: p7Sc, ab: p7Ab, yMax: 12000, x0: 67, x1: 358, top: 834, bot: 1137, tx: 188, ty: 810, lg: [287, 908, 46, 37] },
  { title: "3/11 14:15-14:26", sc: p8Sc, ab: p8Ab, yMax: 12000, x0: 469, x1: 754, top: 838, bot: 1133, tx: 585, ty: 812, lg: [695, 998, 48, 37] }
];

var ink = "#1c1c1c";
var crossPath = "M-2.5,-2.5L2.5,2.5M-2.5,2.5L2.5,-2.5";

function flatten (rows) { // Turn [altitude, [sigma...]] rows into single points.
  var out = [];
  rows.forEach(function (r) {
    r[1].forEach(function (s) { out.push({ s: s, a: r[0] }); });
  });
  return out;
}

function sigmaLabel (sel) { // "σ [10e-6/m]" with the Greek letter in a serif italic.
  sel.append("tspan").attr("font-family", "Liberation Serif, serif").attr("font-style", "italic").attr("font-size", 13).text("σ");
  sel.append("tspan").text("  [10e-6/m]");
}

function drawProfile (svg, p) {
  var x = d3.scaleLog().domain([0.001, 10]).range([p.x0, p.x1]);
  var y = d3.scaleLinear().domain([0, p.yMax]).range([p.bot, p.top]);
  var g = svg.append("g");
  var yTicks = d3.range(0, p.yMax + 1, 2000);

  g.append("rect") // Plot frame.
    .attr("x", p.x0).attr("y", p.top)
    .attr("width", p.x1 - p.x0).attr("height", p.bot - p.top)
    .attr("fill", "none").attr("stroke", "#333").attr("stroke-width", 1);

  var grid = g.append("g").attr("transform", "translate(" + p.x0 + ",0)")
    .call(d3.axisLeft(y).tickValues(yTicks).tickSize(-(p.x1 - p.x0)).tickFormat(""));
  grid.select(".domain").remove();
  grid.selectAll("line").attr("stroke", ink).attr("stroke-width", 1.1);

  var yAxis = g.append("g").attr("transform", "translate(" + p.x0 + ",0)")
    .call(d3.axisLeft(y).tickValues(yTicks).tickSize(0).tickPadding(11).tickFormat(d3.format("d")));
  yAxis.select(".domain").remove();
  yAxis.selectAll("text").attr("font-size", 11).attr("font-weight", "bold").attr("fill", ink)
    .attr("font-family", "DejaVu Sans, sans-serif");

  var xAxis = g.append("g").attr("transform", "translate(0," + p.bot + ")")
    .call(d3.axisBottom(x).tickValues(sigmaTicks).tickSize(-4).tickPadding(14).tickFormat(function (d) { return String(d); }));
  xAxis.select(".domain").remove();
  xAxis.selectAll("line").attr("stroke", "#444");
  xAxis.selectAll("text").attr("font-size", 11).attr("font-weight", "bold").attr("fill", ink)
    .attr("font-family", "DejaVu Sans, sans-serif");

  g.append("text") // Panel title.
    .attr("x", p.tx).attr("y", p.ty).attr("text-anchor", "middle").attr("dominant-baseline", "middle")
    .attr("font-size", 11).attr("font-weight", "bold").attr("fill", ink).style("white-space", "pre")
    .text(p.title);

  g.append("text") // x axis title.
    .attr("x", (p.x0 + p.x1) / 2).attr("y", p.bot + 42).attr("text-anchor", "middle")
    .attr("font-size", 11).attr("font-weight", "bold").attr("fill", ink)
    .call(sigmaLabel);

  g.append("text") // y axis title.
    .attr("transform", "translate(" + (p.x0 - 58) + "," + ((p.top + p.bot) / 2) + ") rotate(-90)")
    .attr("text-anchor", "middle").attr("dominant-baseline", "middle")
    .attr("font-size", 11).attr("font-weight", "bold").attr("fill", ink)
    .text("Altitude [m]");

  g.append("g").selectAll("path")
    .data(flatten(p.ab))
    .join("path")
    .attr("transform", function (d) { return "translate(" + x(d.s) + "," + y(d.a) + ")"; })
    .attr("d", crossPath).attr("stroke", "#111").attr("stroke-width", 1.7).attr("fill", "none");

  g.append("g").selectAll("circle")
    .data(flatten(p.sc))
    .join("circle")
    .attr("cx", function (d) { return x(d.s); })
    .attr("cy", function (d) { return y(d.a); })
    .attr("r", 2.4)
    .attr("fill", "#a8a8a8").attr("stroke", "#141414").attr("stroke-width", 1);

  // Legend box.
  var lg = p.lg;
  var leg = g.append("g").attr("transform", "translate(" + lg[0] + "," + lg[1] + ")");
  leg.append("rect").attr("width", lg[2]).attr("height", lg[3]).attr("fill", "#fff").attr("stroke", "#222");
  [["sc", lg[3] * 0.3], ["ab", lg[3] * 0.74]].forEach(function (item, i) {
    if (i === 0) {
      leg.append("circle").attr("cx", 9).attr("cy", item[1]).attr("r", 2.4)
        .attr("fill", "#a8a8a8").attr("stroke", "#141414").attr("stroke-width", 1);
    } else {
      leg.append("path").attr("transform", "translate(9," + item[1] + ")").attr("d", crossPath)
        .attr("stroke", "#111").attr("stroke-width", 1.7);
    }
    var t = leg.append("text").attr("x", 17).attr("y", item[1]).attr("dominant-baseline", "middle")
      .attr("font-size", 11).attr("fill", ink);
    t.append("tspan").attr("font-family", "Liberation Serif, serif").attr("font-style", "italic").attr("font-size", 14).text("σ");
    t.append("tspan").attr("dx", 2).text(item[0]);
  });
}

function drawIons (svg) {
  var x0 = 882, x1 = 1193, top = 824, bot = 1143;
  var valuesByKey = { Na: naValues, NH4: nh4Values, Mg: mgValues, K: kValues, Ca: caValues, NO2: no2Values, NO3: no3Values, SO4: so4Values };
  var rows = barCategories.map(function (c, i) {
    var row = { cat: c };
    ionKeys.forEach(function (k) { row[k] = valuesByKey[k][i]; });
    return row;
  });
  var series = d3.stack().keys(ionKeys)(rows);

  var x = d3.scaleBand().domain(barCategories).range([x0, x1]).paddingInner(0.59).paddingOuter(0.295);
  var y = d3.scaleLinear().domain([0, 400]).range([bot, top]);
  var g = svg.append("g");

  // Fill patterns that imitate the printed screens.
  var defs = svg.append("defs");
  function pattern (id, bg, fg, cells) {
    var p = defs.append("pattern").attr("id", id).attr("patternUnits", "userSpaceOnUse").attr("width", 4).attr("height", 4);
    p.append("rect").attr("width", 4).attr("height", 4).attr("fill", bg);
    cells.forEach(function (c) {
      p.append("rect").attr("x", c[0]).attr("y", c[1]).attr("width", c[2]).attr("height", c[2]).attr("fill", fg);
    });
  }
  pattern("pat-SO4", "#f2f2f2", "#555", [[0, 0, 1], [2, 2, 1]]);
  pattern("pat-NO3", "#666", "#eee", [[0, 0, 1], [2, 2, 1]]);
  pattern("pat-NO2", "#fff", "#333", [[0, 0, 2], [2, 2, 2]]);
  pattern("pat-Ca", "#4a4a4a", "#9a9a9a", [[1, 0, 1], [3, 2, 1], [0, 3, 1]]);
  pattern("pat-K", "#fff", "#fff", []);
  pattern("pat-Mg", "#fff", "#555", [[1, 1, 1]]);
  pattern("pat-NH4", "#3a3a3a", "#ccc", [[0, 0, 1], [2, 2, 1]]);
  pattern("pat-Na", "#bbb", "#222", [[0, 0, 2], [2, 2, 1]]);

  var grid = g.append("g").attr("transform", "translate(" + x0 + ",0)")
    .call(d3.axisLeft(y).tickValues(barTicks).tickSize(-(x1 - x0)).tickFormat(""));
  grid.select(".domain").remove();
  grid.selectAll("line").attr("stroke", ink).attr("stroke-width", 1.1);

  g.append("rect").attr("x", x0).attr("y", top).attr("width", x1 - x0).attr("height", bot - top)
    .attr("fill", "none").attr("stroke", "#333");

  var yAxis = g.append("g").attr("transform", "translate(" + x0 + ",0)")
    .call(d3.axisLeft(y).tickValues(barTicks).tickSize(0).tickPadding(14));
  yAxis.select(".domain").remove();
  yAxis.selectAll("text").attr("font-size", 13).attr("font-weight", "bold").attr("fill", ink)
    .attr("font-family", "DejaVu Sans, sans-serif");

  // Small tick marks between the categories.
  var centers = barCategories.map(function (c) { return x(c) + x.bandwidth() / 2; });
  g.append("g").selectAll("line")
    .data(d3.pairs(centers))
    .join("line")
    .attr("x1", function (d) { return (d[0] + d[1]) / 2; })
    .attr("x2", function (d) { return (d[0] + d[1]) / 2; })
    .attr("y1", bot).attr("y2", bot - 5)
    .attr("stroke", ink);

  g.append("g").selectAll("g")
    .data(series)
    .join("g")
    .attr("fill", function (s) { return "url(#pat-" + s.key + ")"; })
    .selectAll("rect")
    .data(function (s) { return s.filter(function (d) { return d[1] > d[0]; }); })
    .join("rect")
    .attr("x", function (d) { return x(d.data.cat); })
    .attr("y", function (d) { return y(d[1]); })
    .attr("width", x.bandwidth())
    .attr("height", function (d) { return y(d[0]) - y(d[1]); })
    .attr("stroke", "#111").attr("stroke-width", 0.9);

  // Category labels, three lines each.
  barCategories.forEach(function (c, i) {
    var t = g.append("text").attr("x", centers[i]).attr("y", bot + 28).attr("text-anchor", "middle")
      .attr("font-size", 13).attr("font-weight", "bold").attr("fill", ink);
    barLabelLines[i].forEach(function (line, j) {
      t.append("tspan").attr("x", centers[i]).attr("dy", j === 0 ? 0 : 20).text(line);
    });
  });

  g.append("text")
    .attr("transform", "translate(" + (x0 - 56) + "," + ((top + bot) / 2 - 2) + ") rotate(-90)")
    .attr("text-anchor", "middle").attr("dominant-baseline", "middle")
    .attr("font-family", "Noto Sans CJK JP, sans-serif")
    .attr("font-size", 14).attr("font-weight", "bold").attr("fill", ink)
    .text("イオン濃度 [ng/m3]");

  // Legend, top item first.
  var legendKeys = ionKeys.slice().reverse();
  var leg = g.append("g").attr("transform", "translate(1139,804)");
  leg.append("rect").attr("width", 58).attr("height", 187).attr("fill", "#fff").attr("stroke", "#222");
  legendKeys.forEach(function (k, i) {
    var cy = 11 + i * 23.4;
    leg.append("rect").attr("x", 4).attr("y", cy - 4.5).attr("width", 9).attr("height", 9)
      .attr("fill", "url(#pat-" + k + ")").attr("stroke", "#111").attr("stroke-width", 0.9);
    leg.append("text").attr("x", 16).attr("y", cy).attr("dominant-baseline", "middle")
      .attr("font-size", 13).attr("font-weight", "bold").attr("fill", ink).text(k);
  });
}

window.onload = function () {
  var svg = d3.select("#chart");
  panels.forEach(function (p) { drawProfile(svg, p); });
  drawIons(svg);
};
</script>
</body>
</html>
